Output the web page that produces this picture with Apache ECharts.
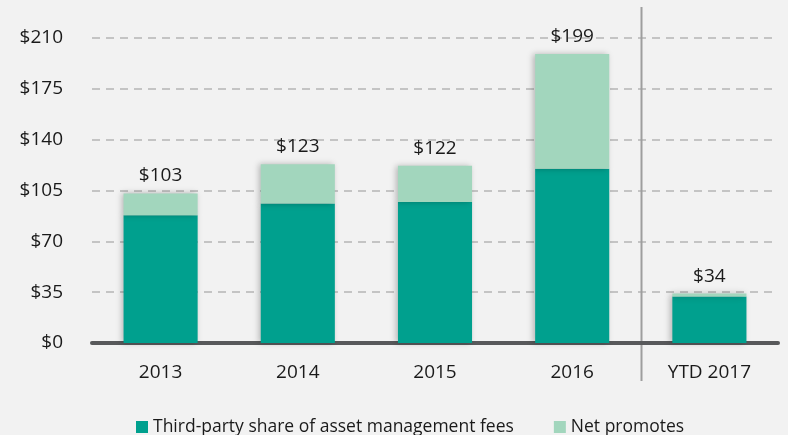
<!DOCTYPE html>
<html>
<head>
<meta charset="utf-8">
<script src="https://cdn.jsdelivr.net/npm/echarts@6/dist/echarts.min.js"></script>
<style>
  html, body { margin: 0; padding: 0; background: #f2f2f2; }
  #chart { width: 788px; height: 435px; }
</style>
</head>
<body>
<div id="chart"></div>
<script>
// Data
const categories = ['2013', '2014', '2015', '2016', 'YTD 2017']
const thirdPartyFees = [88, 96, 97, 120, 32]
const netPromotes = [15, 27, 25, 79, 2]
const totals = [103, 123, 122, 199, 34]
const yTicks = [0, 35, 70, 105, 140, 175, 210]

const colors = {
  fees: '#00a08e',
  promotes: '#a2d6bd',
  text: '#1a1a1a'
}

const font = '"Open Sans", "Noto Sans", sans-serif'

const chart = echarts.init(document.getElementById('chart'))

const barShadow = {
  shadowColor: 'rgba(0,0,0,0.25)',
  shadowBlur: 6,
  shadowOffsetX: -2
}

const option = {
  backgroundColor: '#f2f2f2',
  animation: false,
  textStyle: { fontFamily: font },
  grid: { left: 92, right: 10, top: 38, bottom: 92 },
  legend: {
    top: 413,
    left: 131,
    itemWidth: 12,
    itemHeight: 12,
    itemGap: 40,
    icon: 'rect',
    textStyle: { fontSize: 17.5, color: colors.text, fontFamily: font },
    data: ['Third-party share of asset management fees', 'Net promotes']
  },
  xAxis: {
    type: 'category',
    data: categories,
    axisTick: { show: false },
    axisLine: { lineStyle: { color: '#58595b', width: 4 } },
    axisLabel: { fontSize: 19, color: colors.text, margin: 20, fontFamily: font }
  },
  yAxis: {
    type: 'value',
    min: yTicks[0],
    max: yTicks[yTicks.length - 1],
    interval: 35,
    axisLine: { show: false },
    axisTick: { show: false },
    axisLabel: {
      fontSize: 19,
      color: colors.text,
      margin: 29,
      fontFamily: font,
      formatter: v => '$' + v
    },
    splitLine: { lineStyle: { color: '#c4c4c4', type: [8, 6], width: 2 } }
  },
  series: [
    {
      name: 'Third-party share of asset management fees',
      type: 'bar',
      stack: 'total',
      barWidth: '54%',
      data: thirdPartyFees,
      itemStyle: Object.assign({ color: colors.fees }, barShadow)
    },
    {
      name: 'Net promotes',
      type: 'bar',
      stack: 'total',
      barWidth: '54%',
      data: netPromotes,
      itemStyle: Object.assign({ color: colors.promotes }, barShadow),
      label: {
        show: true,
        position: 'top',
        distance: 8,
        fontSize: 19,
        color: colors.text,
        fontFamily: font,
        formatter: p => '$' + totals[p.dataIndex]
      }
    }
  ]
}

chart.setOption(option)

// Separator between 2016 and YTD 2017, placed from the axis scale
const x2016 = chart.convertToPixel({ xAxisIndex: 0 }, '2016')
const xYtd = chart.convertToPixel({ xAxisIndex: 0 }, 'YTD 2017')
const sepX = Math.round((x2016 + xYtd) / 2) + 0.5
chart.setOption({
  graphic: [{
    type: 'line',
    shape: { x1: sepX, y1: 7, x2: sepX, y2: 381 },
    style: { stroke: '#9e9e9e', lineWidth: 2 },
    z: 0
  }]
})
</script>
</body>
</html>
